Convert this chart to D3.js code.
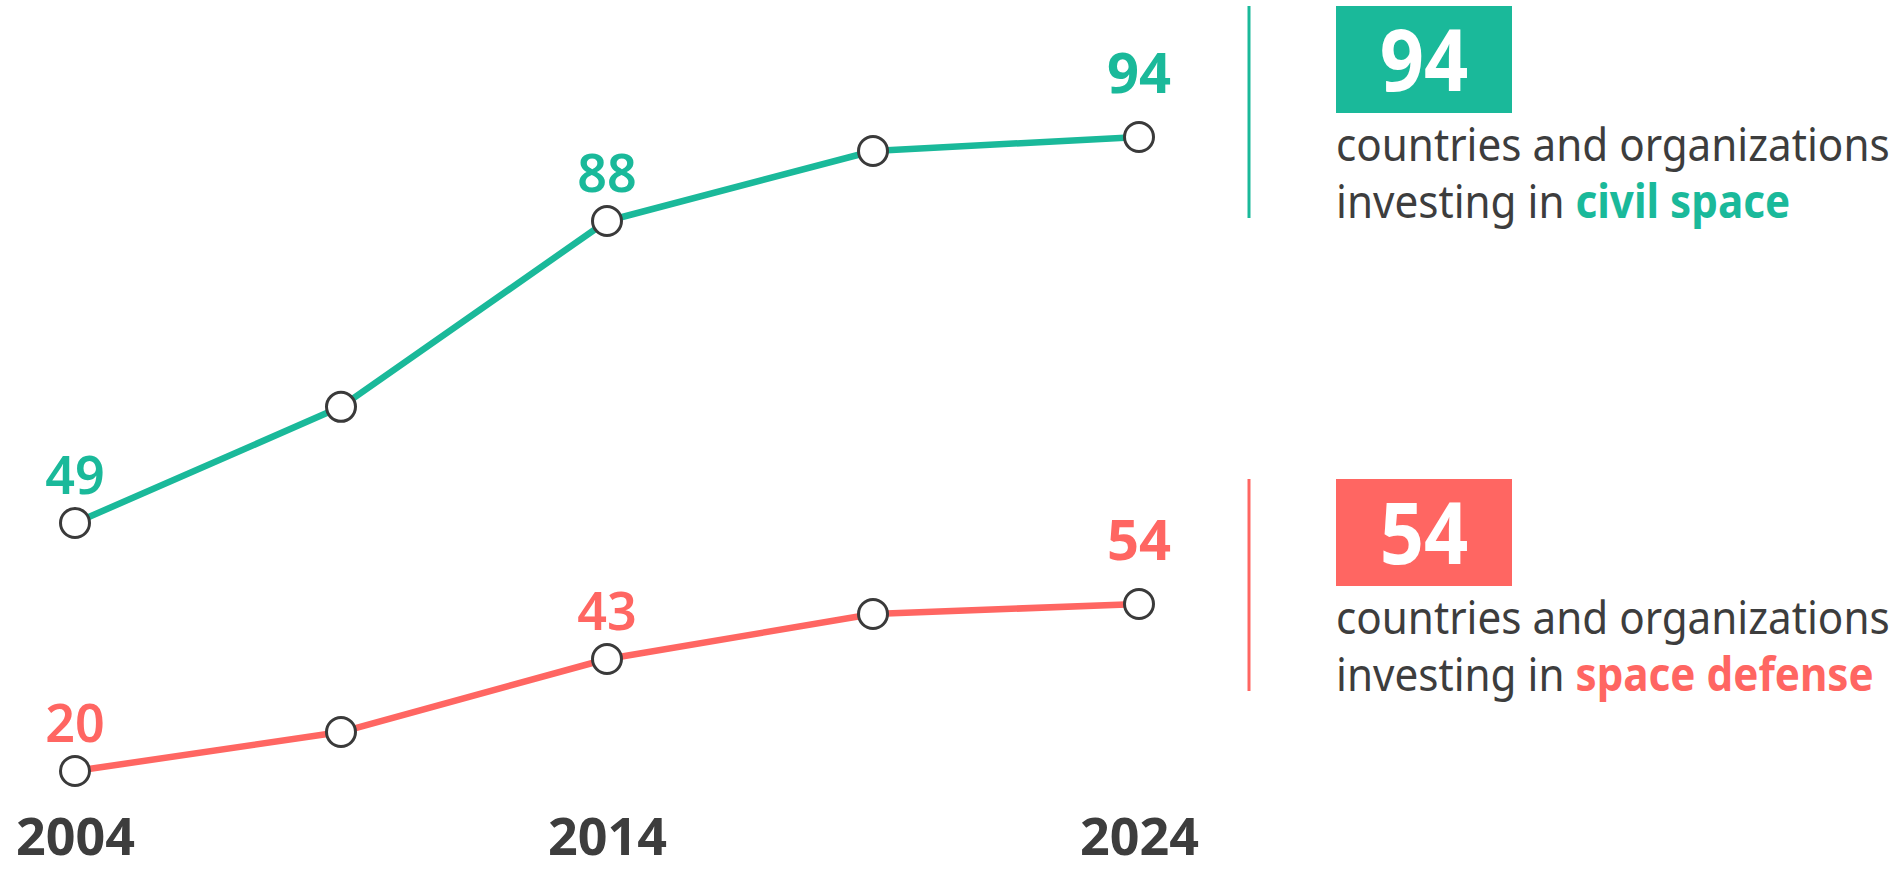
<!DOCTYPE html>
<html>
<head>
<meta charset="utf-8">
<script src="https://cdn.jsdelivr.net/npm/d3@7"></script>
<style>
  body { margin: 0; background: #fff; }
  svg { display: block; }
</style>
</head>
<body>
<script>
// Data
const years = [2004, 2009, 2014, 2019, 2024];
const civilSpace = [49, 64, 88, 93, 94];
const spaceDefense = [20, 28, 43, 52, 54];
const labelledYears = [2004, 2014, 2024];
const seriesNames = ["civil space", "space defense"];
const seriesColors = ["#1ab99a", "#ff6662"];
const captionLine1 = "countries and organizations";
const captionLine2 = "investing in ";

const width = 1896;
const height = 872;
const textColor = "#3d3d3d";

const svg = d3.select("body").append("svg")
    .attr("width", width)
    .attr("height", height)
    .style("font-family", "'Noto Sans', sans-serif");

const x = d3.scaleLinear().domain([2004, 2024]).range([75, 1139]);

// The original isn't spaced linearly, so each series maps through its labelled values.
function labelledValues(values) {
  return labelledYears.map(yr => values[years.indexOf(yr)]);
}
const series = [
  {name: seriesNames[0], values: civilSpace, color: seriesColors[0],
   y: d3.scaleLinear().domain(labelledValues(civilSpace)).range([523, 221, 137]), top: 6},
  {name: seriesNames[1], values: spaceDefense, color: seriesColors[1],
   y: d3.scaleLinear().domain(labelledValues(spaceDefense)).range([771, 659, 604]), top: 479}
];

const line = d3.line();

const g = svg.selectAll("g.series")
  .data(series)
  .join("g")
    .attr("class", "series");

g.append("path")
    .attr("fill", "none")
    .attr("stroke", d => d.color)
    .attr("stroke-width", 6.5)
    .attr("stroke-linejoin", "round")
    .attr("d", s => line(years.map((yr, i) => [x(yr), s.y(s.values[i])])));

g.selectAll("circle")
  .data(s => years.map((yr, i) => ({yr, v: s.values[i], s})))
  .join("circle")
    .attr("cx", d => x(d.yr))
    .attr("cy", d => d.s.y(d.v))
    .attr("r", 14.5)
    .attr("fill", "#fff")
    .attr("stroke", "#3a3a3a")
    .attr("stroke-width", 3);

g.selectAll("text.value")
  .data(s => labelledYears.map(yr => ({yr, v: s.values[years.indexOf(yr)], s})))
  .join("text")
    .attr("class", "value")
    .attr("x", d => x(d.yr))
    .attr("y", d => d.s.y(d.v) - (d.yr === 2024 ? 44 : 29))
    .attr("text-anchor", "middle")
    .attr("fill", d => d.s.color)
    .attr("font-size", d => d.yr === 2024 ? 56 : 52)
    .attr("font-weight", d => d.yr === 2024 ? 700 : 600)
    .text(d => d.v);

// Year axis
const axis = svg.append("g")
    .attr("transform", "translate(0,855)")
    .call(d3.axisBottom(x).tickValues(labelledYears).tickFormat(d3.format("d")).tickSize(0));
axis.select(".domain").remove();
axis.selectAll("text")
    .attr("y", 0)
    .attr("dy", null)
    .attr("fill", textColor)
    .attr("font-family", "'Noto Sans', sans-serif")
    .attr("font-size", 52)
    .attr("font-weight", 700);

// Right-hand callouts
const panel = svg.selectAll("g.panel")
  .data(series)
  .join("g")
    .attr("class", "panel")
    .attr("transform", d => `translate(0,${d.top})`);

panel.append("line")
    .attr("x1", 1249).attr("x2", 1249)
    .attr("y1", 0).attr("y2", 212)
    .attr("stroke", d => d.color)
    .attr("stroke-width", 3);

panel.append("rect")
    .attr("x", 1336).attr("y", 0)
    .attr("width", 176).attr("height", 107)
    .attr("fill", d => d.color);

panel.append("text")
    .attr("transform", "translate(1424,85) scale(0.9,1)")
    .attr("text-anchor", "middle")
    .attr("fill", "#fff")
    .attr("font-size", 86)
    .attr("font-weight", 700)
    .text(d => d.values[d.values.length - 1]);

const cap1 = panel.append("text")
    .attr("font-size", 46)
    .attr("fill", textColor)
    .text(captionLine1);

const cap2 = panel.append("text")
    .attr("font-size", 46)
    .attr("fill", textColor);
cap2.append("tspan").text(captionLine2);
cap2.append("tspan")
    .attr("fill", d => d.color)
    .attr("font-weight", 700)
    .text(d => d.name);

// squeeze the captions to the column width of the original's narrower face
const k = 554 / cap1.node().getComputedTextLength();
cap1.attr("transform", `translate(1336,155) scale(${k},1)`);
cap2.attr("transform", `translate(1336,212) scale(${k},1)`);
</script>
</body>
</html>
